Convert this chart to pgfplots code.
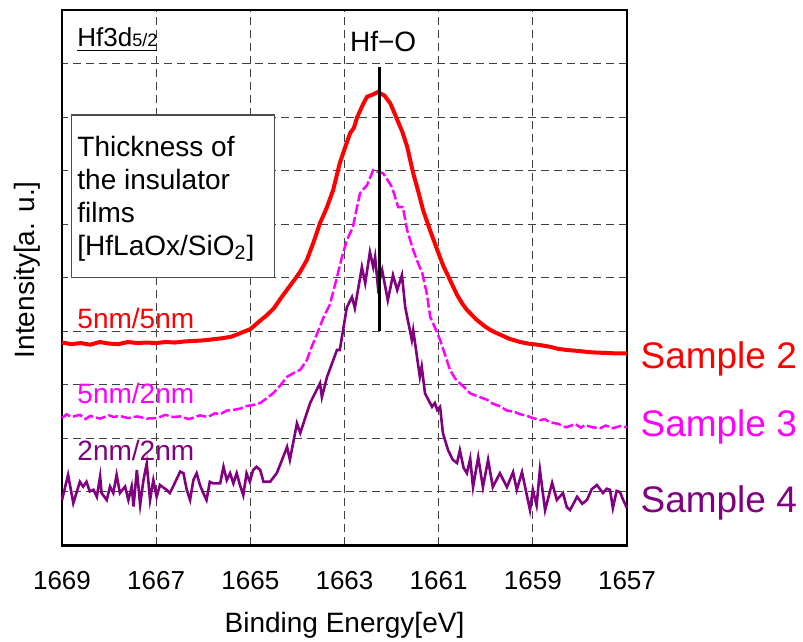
\documentclass[border=0pt]{standalone}
\usepackage{pgfplots}
\pgfplotsset{compat=1.18}
\usepackage{fontspec}
\setmainfont{Liberation Sans}
\definecolor{sred}{RGB}{255,0,0}
\definecolor{smag}{RGB}{255,0,255}
\definecolor{spur}{RGB}{128,0,128}
\begin{document}
\begin{tikzpicture}
\useasboundingbox (0,0) rectangle (401.5pt,321pt);
\begin{axis}[
  at={(31pt,48.25pt)}, anchor=south west,
  scale only axis, width=282.5pt, height=267.75pt,
  x dir=reverse,
  xmin=1657, xmax=1669, ymin=0, ymax=10,
  xtick={1669,1667,1665,1663,1661,1659,1657},
  xticklabels={1669,1667,1665,1663,1661,1659,1657},
  ytick={1,2,3,4,5,6,7,8,9},
  yticklabels={},
  major tick length=0pt,
  grid=major,
  major grid style={black!75, line width=0.5pt, dash pattern=on 4pt off 2.5pt},
  axis line style={line width=1.25pt},
  tick label style={font=\fontsize{13}{15}\selectfont},
  xticklabel style={yshift=-9.5pt},
  xlabel={Binding Energy[eV]},
  xlabel style={font=\fontsize{14}{16}\selectfont, at={(axis description cs:0.5,0)}, anchor=base, yshift=-43.5pt},
  ylabel={Intensity[a. u.]},
  ylabel style={font=\fontsize{14}{16}\selectfont, at={(axis description cs:0,0.5)}, anchor=center, xshift=4pt, yshift=17.5pt},
  /pgf/number format/assume math mode=true,
  clip=false,
]
% Sample 2 (red)
\addplot[sred, line width=2pt] coordinates {
(1669.0,3.79) (1668.8,3.76) (1668.6,3.78) (1668.4,3.75) (1668.2,3.80) (1668.0,3.77)
(1667.8,3.76) (1667.6,3.80) (1667.4,3.78) (1667.2,3.79) (1667.0,3.78) (1666.8,3.80)
(1666.6,3.79) (1666.4,3.81) (1666.2,3.82) (1666.0,3.83) (1665.8,3.85) (1665.6,3.87)
(1665.4,3.90) (1665.2,3.97) (1665.0,4.04) (1664.79,4.20) (1664.65,4.30) (1664.5,4.43)
(1664.35,4.62) (1664.2,4.80) (1664.09,4.93) (1663.95,5.10) (1663.80,5.33) (1663.65,5.68)
(1663.52,6.02) (1663.38,6.30) (1663.24,6.64) (1663.10,7.14) (1663.0,7.40) (1662.88,7.70)
(1662.80,7.80) (1662.73,8.00) (1662.60,8.25) (1662.52,8.38) (1662.40,8.42) (1662.29,8.47)
(1662.15,8.40) (1662.03,8.26) (1661.95,8.10) (1661.88,7.95) (1661.77,7.72) (1661.67,7.45)
(1661.54,6.95) (1661.43,6.60) (1661.33,6.26) (1661.18,5.88) (1661.03,5.52) (1660.90,5.22)
(1660.76,4.96) (1660.61,4.68) (1660.50,4.52) (1660.40,4.40) (1660.20,4.22) (1660.0,4.08)
(1659.85,4.00) (1659.70,3.94) (1659.50,3.86) (1659.27,3.80) (1659.10,3.77) (1658.90,3.75)
(1658.63,3.71) (1658.45,3.67) (1658.27,3.65) (1658.0,3.63) (1657.8,3.61) (1657.57,3.60)
(1657.3,3.59) (1657.0,3.59)
};
% Sample 3 (magenta)
\addplot[smag, line width=1.25pt, dash pattern=on 5pt off 1.5pt] coordinates {
(1669.0,2.38) (1668.9,2.45) (1668.8,2.40) (1668.62,2.44) (1668.5,2.36) (1668.4,2.42)
(1668.19,2.37) (1668.0,2.43) (1667.9,2.40) (1667.77,2.42) (1667.6,2.38) (1667.4,2.41)
(1667.2,2.37) (1666.98,2.38) (1666.8,2.44) (1666.65,2.40) (1666.49,2.41) (1666.3,2.36)
(1666.07,2.43) (1665.9,2.40) (1665.75,2.47) (1665.64,2.45) (1665.5,2.52) (1665.37,2.53)
(1665.2,2.56) (1665.11,2.60) (1664.95,2.62) (1664.79,2.66) (1664.65,2.75) (1664.52,2.84)
(1664.37,2.98) (1664.22,3.15) (1664.08,3.22) (1663.94,3.28) (1663.80,3.46) (1663.70,3.70)
(1663.58,3.96) (1663.45,4.25) (1663.31,4.50) (1663.16,5.01) (1663.05,5.40) (1662.95,5.70)
(1662.82,5.95) (1662.75,6.25) (1662.67,6.58) (1662.52,6.73) (1662.39,7.01) (1662.30,6.98)
(1662.18,6.95) (1662.08,6.82) (1661.99,6.69) (1661.86,6.32) (1661.76,6.32) (1661.67,5.89)
(1661.54,5.52) (1661.45,5.30) (1661.35,5.09) (1661.25,4.70) (1661.18,4.27) (1661.07,4.05)
(1660.97,3.84) (1660.86,3.55) (1660.76,3.28) (1660.65,3.12) (1660.55,3.03) (1660.45,2.95)
(1660.33,2.84) (1660.15,2.78) (1659.97,2.72) (1659.85,2.65) (1659.70,2.60) (1659.55,2.52)
(1659.40,2.50) (1659.27,2.45) (1659.15,2.43) (1659.00,2.38) (1658.85,2.34) (1658.75,2.36)
(1658.63,2.30) (1658.45,2.27) (1658.35,2.22) (1658.27,2.21) (1658.1,2.27) (1657.98,2.20)
(1657.89,2.25) (1657.75,2.21) (1657.57,2.19) (1657.45,2.24) (1657.3,2.19) (1657.15,2.23)
(1657.0,2.21)
};
% Sample 4 (purple)
\addplot[spur, line width=1.3pt] coordinates {
(1669.0,0.85) (1668.87,1.32) (1668.76,0.79) (1668.62,1.19) (1668.55,1.10) (1668.48,1.19)
(1668.41,1.01) (1668.33,1.04) (1668.26,0.91) (1668.19,1.29) (1668.16,0.98) (1668.05,0.85)
(1667.98,1.10) (1667.91,0.98) (1667.84,1.32) (1667.77,0.98) (1667.66,1.10) (1667.59,0.85)
(1667.52,1.10) (1667.48,0.73) (1667.41,1.41) (1667.34,0.76) (1667.27,1.22) (1667.20,1.53)
(1667.13,0.85) (1667.06,1.22) (1666.99,0.91) (1666.92,1.13) (1666.78,1.04) (1666.71,0.98)
(1666.64,1.10) (1666.49,1.38) (1666.42,1.35) (1666.35,1.04) (1666.28,0.85) (1666.21,1.22)
(1666.14,1.35) (1666.07,1.13) (1666.00,0.98) (1665.93,0.85) (1665.86,1.19) (1665.79,1.16)
(1665.64,1.16) (1665.57,1.47) (1665.50,1.22) (1665.43,1.35) (1665.36,1.16) (1665.29,1.35)
(1665.22,1.13) (1665.15,0.94) (1665.08,1.35) (1665.01,1.19) (1664.94,1.41) (1664.87,1.47)
(1664.79,1.41) (1664.72,1.19) (1664.58,1.19) (1664.44,1.35) (1664.37,1.50) (1664.22,1.84)
(1664.16,1.60) (1664.01,2.28) (1663.94,2.10) (1663.73,2.66) (1663.52,3.03) (1663.48,2.77)
(1663.37,3.15) (1663.16,3.65) (1663.10,3.65) (1662.95,4.45) (1662.84,4.64) (1662.78,4.43)
(1662.63,5.20) (1662.56,4.90) (1662.46,5.48) (1662.39,5.20) (1662.35,5.39) (1662.29,4.83)
(1662.20,5.14) (1662.08,4.58) (1661.97,5.05) (1661.88,4.77) (1661.78,5.05) (1661.71,4.45)
(1661.57,3.84) (1661.54,4.02) (1661.40,3.15) (1661.36,3.34) (1661.29,2.84) (1661.14,2.59)
(1661.08,2.66) (1661.03,2.53) (1660.97,2.59) (1660.91,2.10) (1660.80,1.78) (1660.70,1.60)
(1660.61,1.54) (1660.55,1.78) (1660.47,1.45) (1660.40,1.35) (1660.33,1.62) (1660.27,1.09)
(1660.16,1.65) (1660.06,1.09) (1659.95,1.60) (1659.85,1.09) (1659.70,1.35) (1659.55,1.09)
(1659.42,1.37) (1659.34,1.04) (1659.23,1.37) (1659.06,0.66) (1659.00,1.04) (1658.92,0.75)
(1658.85,1.41) (1658.74,0.66) (1658.59,1.17) (1658.49,0.85) (1658.36,0.98) (1658.28,0.72)
(1658.21,0.66) (1658.06,0.91) (1657.95,0.78) (1657.85,0.85) (1657.75,1.05) (1657.64,1.13)
(1657.51,0.98) (1657.43,1.06) (1657.36,1.04) (1657.30,0.70) (1657.22,1.02) (1657.15,1.00)
(1657.08,0.85) (1657.00,0.70)
};
% Hf-O marker line
\addplot[black, line width=1.5pt] coordinates {(1662.25,4.0) (1662.25,8.94)};
% Annotations
\draw[black!70, line width=0.6pt, fill=white] (axis cs:1668.79,8.04) rectangle (axis cs:1664.48,5.01);
\node[anchor=north west, inner sep=0pt, align=left, font=\fontsize{14}{16.5}\selectfont]
  at (axis cs:1668.68,7.65) {Thickness of\\the insulator\\films\\{[HfLaOx/SiO\textsubscript{2}]}};
\node[anchor=base west, inner sep=0pt] at (axis cs:1668.68,9.31)
  {\fontsize{13}{15}\selectfont\underline{Hf3d{\fontsize{9}{10}\selectfont 5/2}}};
\node[anchor=base, inner sep=0pt, font=\fontsize{14}{16}\selectfont] at (axis cs:1662.18,9.22) {Hf−O};
\node[anchor=base west, inner sep=0pt, text=sred, font=\fontsize{14}{16}\selectfont] at (axis cs:1668.68,4.06) {5nm/5nm};
\node[anchor=base west, inner sep=0pt, text=smag, font=\fontsize{14}{16}\selectfont] at (axis cs:1668.68,2.66) {5nm/2nm};
\node[anchor=base west, inner sep=0pt, text=spur, font=\fontsize{14}{16}\selectfont] at (axis cs:1668.68,1.58) {2nm/2nm};
\node[anchor=base west, inner sep=0pt, text=sred, font=\fontsize{18.5}{20}\selectfont] at (axis cs:1656.72,3.31) {Sample 2};
\node[anchor=base west, inner sep=0pt, text=smag, font=\fontsize{18.5}{20}\selectfont] at (axis cs:1656.72,2.03) {Sample 3};
\node[anchor=base west, inner sep=0pt, text=spur, font=\fontsize{18.5}{20}\selectfont] at (axis cs:1656.72,0.61) {Sample 4};
\end{axis}
\end{tikzpicture}
\end{document}
